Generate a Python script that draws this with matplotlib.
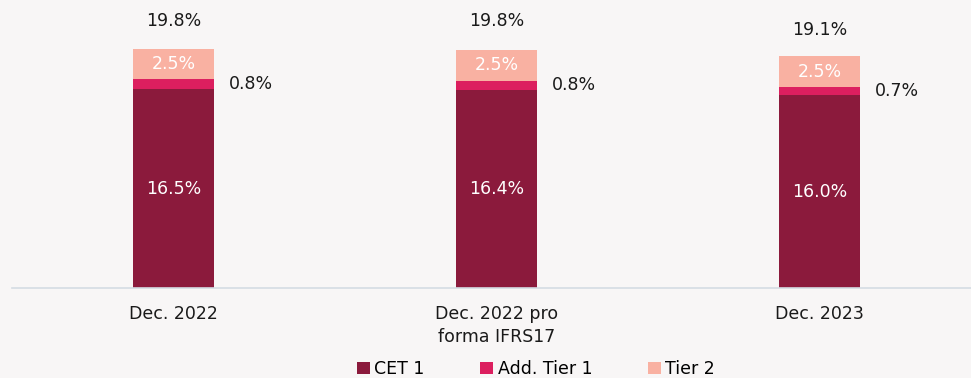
import numpy as np
import matplotlib.pyplot as plt
from matplotlib.patches import Patch

plt.rcParams['font.family'] = ['DejaVu Sans']

# Capital ratios (%) per reporting date
categories = ['Dec. 2022', 'Dec. 2022 pro\nforma IFRS17', 'Dec. 2023']
cet1 = [16.5, 16.4, 16.0]
add_tier1 = [0.8, 0.8, 0.7]
tier2 = [2.5, 2.5, 2.5]
totals = [19.8, 19.8, 19.1]

series_names = ['CET 1', 'Add. Tier 1', 'Tier 2']
colors = ['#8B1A3C', '#DC1F5F', '#F9B1A2']
bg = '#F8F6F6'

fig = plt.figure(figsize=(9.71, 3.78), dpi=100, facecolor=bg)
ax = fig.add_axes([12 / 971, 90 / 378, 1 - 12 / 971, 288 / 378])
ax.set_facecolor(bg)

x = np.arange(len(categories))
w = 0.25
ax.bar(x, cet1, w, color=colors[0])
ax.bar(x, add_tier1, w, bottom=cet1, color=colors[1])
base3 = np.array(cet1) + np.array(add_tier1)
ax.bar(x, tier2, w, bottom=base3, color=colors[2])

fs = 12.5
for i in range(len(x)):
    ax.text(x[i], cet1[i] / 2, f'{cet1[i]:.1f}%', ha='center', va='center',
            color='white', fontsize=fs)
    ax.text(x[i], base3[i] + tier2[i] / 2, f'{tier2[i]:.1f}%', ha='center',
            va='center', color='white', fontsize=fs)
    ax.text(x[i] + w / 2 + 0.045, cet1[i] + add_tier1[i] / 2,
            f'{add_tier1[i]:.1f}%', ha='left', va='center', color='#1a1a1a',
            fontsize=fs)
    ax.text(x[i], totals[i] + 2.3, f'{totals[i]:.1f}%', ha='center',
            va='center', color='#1a1a1a', fontsize=fs)

ax.set_xlim(-0.5, (971 - 173.5) / 323)
ax.set_ylim(0, 288 / 12.06)
ax.set_xticks(x)
ax.set_xticklabels(categories, fontsize=fs, color='#1a1a1a', linespacing=1.35)
ax.tick_params(axis='x', length=0, pad=12)
ax.set_yticks([])
for s in ['top', 'right', 'left']:
    ax.spines[s].set_visible(False)
ax.spines['bottom'].set_color('#D5DCE3')
ax.spines['bottom'].set_linewidth(1.2)

handles = [Patch(facecolor=c, edgecolor='none') for c in colors]
fig.legend(handles, series_names, loc='center left',
           bbox_to_anchor=(357 / 971, 9 / 378), ncol=3, frameon=False,
           fontsize=fs, handlelength=0.75, handleheight=0.75,
           handletextpad=0.25, columnspacing=3.2, borderpad=0, borderaxespad=0)

fig.savefig('out.png', dpi=100, facecolor=bg)
